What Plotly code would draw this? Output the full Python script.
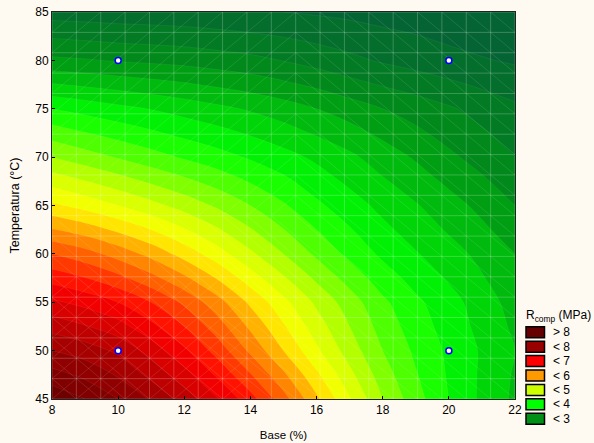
import plotly.graph_objects as go
import numpy as np

base_pct = [8, 9, 10, 11, 12, 13, 14, 15, 16, 17, 18, 19, 20, 21, 22]
temperatura = [45, 47.5, 50, 52.5, 55, 57.5, 60, 62.5, 65, 67.5, 70, 72.5, 75, 77.5, 80, 82.5, 85]
r_comp = [
    [8.70, 8.50, 8.25, 7.97, 7.65, 7.27, 6.85, 6.35, 5.80, 5.27, 4.75, 4.35, 4.00, 3.70, 3.45],
    [8.35, 8.19, 7.97, 7.68, 7.35, 6.96, 6.52, 6.05, 5.55, 5.07, 4.62, 4.27, 3.97, 3.71, 3.47],
    [8.00, 7.88, 7.70, 7.40, 7.05, 6.65, 6.20, 5.75, 5.30, 4.88, 4.50, 4.20, 3.95, 3.72, 3.50],
    [7.65, 7.52, 7.35, 7.07, 6.75, 6.37, 5.95, 5.53, 5.12, 4.75, 4.40, 4.12, 3.90, 3.67, 3.45],
    [7.30, 7.17, 7.00, 6.75, 6.45, 6.10, 5.70, 5.32, 4.95, 4.62, 4.30, 4.05, 3.85, 3.62, 3.40],
    [6.90, 6.76, 6.57, 6.33, 6.05, 5.73, 5.37, 5.03, 4.70, 4.40, 4.12, 3.91, 3.72, 3.52, 3.32],
    [6.50, 6.35, 6.15, 5.92, 5.65, 5.36, 5.05, 4.75, 4.45, 4.18, 3.95, 3.77, 3.60, 3.43, 3.25],
    [6.02, 5.88, 5.70, 5.50, 5.27, 5.03, 4.77, 4.51, 4.25, 4.02, 3.81, 3.64, 3.47, 3.30, 3.12],
    [5.55, 5.41, 5.25, 5.08, 4.90, 4.71, 4.50, 4.28, 4.05, 3.86, 3.68, 3.52, 3.35, 3.18, 3.00],
    [5.15, 5.01, 4.86, 4.71, 4.56, 4.40, 4.23, 4.06, 3.87, 3.70, 3.53, 3.37, 3.20, 3.04, 2.87],
    [4.75, 4.61, 4.48, 4.35, 4.22, 4.10, 3.97, 3.84, 3.70, 3.55, 3.38, 3.22, 3.05, 2.90, 2.75],
    [4.38, 4.26, 4.15, 4.04, 3.93, 3.83, 3.72, 3.60, 3.47, 3.34, 3.19, 3.05, 2.91, 2.78, 2.65],
    [4.00, 3.91, 3.82, 3.74, 3.65, 3.56, 3.47, 3.37, 3.25, 3.13, 3.00, 2.89, 2.78, 2.66, 2.55],
    [3.52, 3.46, 3.40, 3.34, 3.28, 3.21, 3.14, 3.05, 2.95, 2.83, 2.73, 2.64, 2.55, 2.46, 2.38],
    [3.05, 3.02, 2.98, 2.95, 2.92, 2.87, 2.82, 2.74, 2.65, 2.56, 2.47, 2.40, 2.33, 2.27, 2.22],
    [2.72, 2.69, 2.66, 2.64, 2.62, 2.58, 2.54, 2.49, 2.43, 2.37, 2.31, 2.26, 2.20, 2.15, 2.11],
    [2.38, 2.37, 2.35, 2.34, 2.32, 2.30, 2.27, 2.25, 2.22, 2.19, 2.15, 2.12, 2.08, 2.04, 2.00],
]
obs_base = [10, 10, 20, 20]
obs_temp = [50, 80, 50, 80]
legend_labels = ["> 8", "< 8", "< 7", "< 6", "< 5", "< 4", "< 3"]
legend_colors = ["#660000", "#990000", "#ff0000", "#ff9900", "#ccff00", "#00ff00", "#009016"]
x_ticks = [8, 10, 12, 14, 16, 18, 20, 22]
y_ticks = [45, 50, 55, 60, 65, 70, 75, 80, 85]

BG = "#fffaf1"
FONT = "Liberation Sans"
zmin, zmax = 2.0, 8.75
stops = [(2.2, "#056434"), (3.0, "#009016"), (4.0, "#00ff00"), (5.0, "#ccff00"), (5.5, "#ffff00"),
         (6.0, "#ff9900"), (7.0, "#ff0000"), (8.0, "#990000"), (8.75, "#660000")]
colorscale = [[0.0, stops[0][1]]] + [[(v - zmin) / (zmax - zmin), c] for v, c in stops]

fig = go.Figure()
fig.add_trace(go.Contour(
    x=base_pct, y=temperatura, z=r_comp, zmin=zmin, zmax=zmax, colorscale=colorscale,
    showscale=False, hoverinfo="skip",
    contours=dict(start=2.0, end=9.0, size=0.25, coloring="fill"),
    line=dict(color="rgba(255,255,255,0.12)", width=0.5, smoothing=1.0), connectgaps=True,
))

# wireframe of the fitted surface: 19 x 19 cells
mx = np.linspace(8, 22, 20)
my = np.linspace(45, 85, 20)
gx, gy = [], []
for v in mx:
    gx += [v, v, None]; gy += [45, 85, None]
for v in my:
    gx += [8, 22, None]; gy += [v, v, None]
fig.add_trace(go.Scatter(x=gx, y=gy, mode="lines", hoverinfo="skip", showlegend=False,
                         line=dict(color="rgba(255,255,255,0.22)", width=1)))
dx, dy = [], []
for c in range(19):
    for r in range(19):
        upper_left = c < 10 and r >= 9
        lower_left = c < 8 and r < 6
        if upper_left or lower_left:
            dx += [mx[c], mx[c + 1], None]; dy += [my[r], my[r + 1], None]
        if not upper_left:
            dx += [mx[c], mx[c + 1], None]; dy += [my[r + 1], my[r], None]
fig.add_trace(go.Scatter(x=dx, y=dy, mode="lines", hoverinfo="skip", showlegend=False,
                         line=dict(color="rgba(255,255,255,0.16)", width=0.7)))

fig.add_trace(go.Scatter(x=obs_base, y=obs_temp, mode="markers", hoverinfo="skip", showlegend=False,
                         marker=dict(color="white", size=6, line=dict(color="#0000ff", width=1.5))))

axis = dict(showgrid=False, zeroline=False, showline=True, linecolor="#222222", linewidth=1, mirror=True,
            automargin=False, ticks="inside", ticklen=3, tickcolor="black",
            tickfont=dict(size=12, color="black", family=FONT))
fig.update_xaxes(**axis, range=[8, 22], tickvals=x_ticks,
                 title=dict(text="Base (%)", font=dict(size=11.5, color="black", family=FONT), standoff=14))
fig.update_yaxes(**axis, range=[45, 85], tickvals=y_ticks,
                 title=dict(text="Temperatura (°C)", font=dict(size=12.5, color="black", family=FONT), standoff=12))

W, H = 594, 443
L, T, PW, PH = 52, 12, W - 79 - 52, H - 12 - 44
def px_x(p): return (p - L) / PW
def px_y(p): return 1 - (p - T) / PH
shapes = []
notes = [dict(x=px_x(524), y=px_y(316), xref="paper", yref="paper", xanchor="left", yanchor="middle",
              showarrow=False, text="R<sub>comp</sub> (MPa)", font=dict(size=12, color="black", family=FONT))]
for i, (lab, col) in enumerate(zip(legend_labels, legend_colors)):
    yc = 332.3 + i * 14.4
    shapes.append(dict(type="rect", xref="paper", yref="paper", x0=px_x(526), x1=px_x(544.5),
                       y0=px_y(yc - 5.5), y1=px_y(yc + 5.5), fillcolor=col, line=dict(color="black", width=1.5)))
    notes.append(dict(x=px_x(550.5), y=px_y(yc), xref="paper", yref="paper", xanchor="left", yanchor="middle",
                      showarrow=False, text=lab, font=dict(size=12, color="black", family=FONT)))

fig.update_layout(width=W, height=H, autosize=False, paper_bgcolor=BG, plot_bgcolor=BG, showlegend=False,
                  margin=dict(l=52, r=79, t=12, b=44), shapes=shapes, annotations=notes,
                  font=dict(family=FONT, size=12, color="black"))
fig.write_html("out.html", config=dict(displayModeBar=False),
               post_script="document.body.style.margin='0';document.body.style.overflow='hidden';")
